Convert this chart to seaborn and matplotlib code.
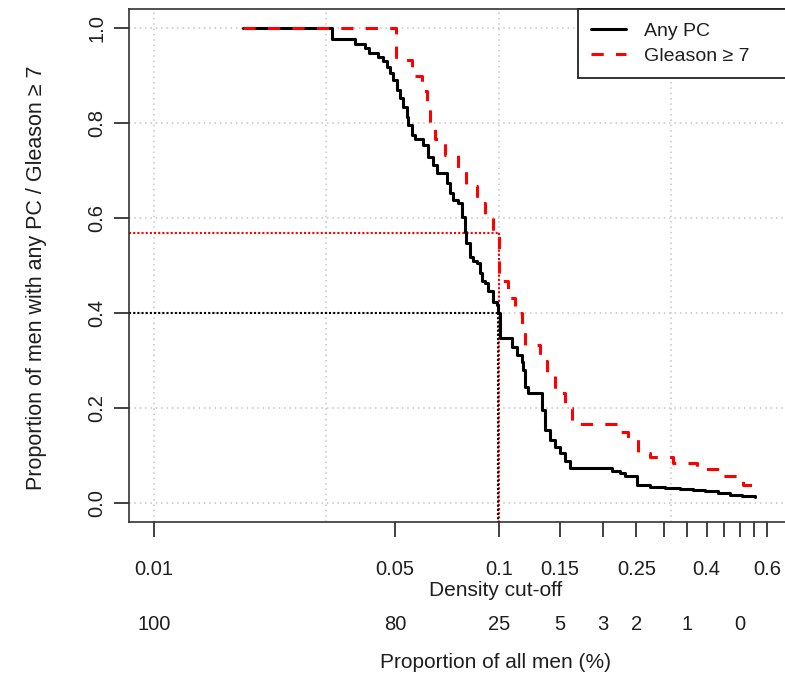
import pandas as pd
import matplotlib.pyplot as plt
import seaborn as sns

# --- data (step curves: x where the step happens, value after it) ---
any_x = [0.0181, 0.0327, 0.0383, 0.0409, 0.0420, 0.0447, 0.0461, 0.0473, 0.0483, 0.0493,
         0.0505, 0.0516, 0.0528, 0.0540, 0.0546, 0.0558, 0.0571, 0.0603, 0.0624, 0.0645,
         0.0660, 0.0705, 0.0721, 0.0737, 0.0762, 0.0780, 0.0797, 0.0805, 0.0824, 0.0842,
         0.0861, 0.0881, 0.0891, 0.0910, 0.0931, 0.0963, 0.0985, 0.0995, 0.1007, 0.1089,
         0.1125, 0.1164, 0.1176, 0.1190, 0.1216, 0.1330, 0.1360, 0.1405, 0.1453, 0.1503,
         0.1554, 0.1607, 0.2122, 0.2243, 0.2319, 0.2506, 0.2534, 0.2740, 0.3030, 0.3346,
         0.3650, 0.3955, 0.4314, 0.4673, 0.5063, 0.5521]
any_y = [1.000, 0.977, 0.968, 0.958, 0.947, 0.940, 0.932, 0.919, 0.905, 0.891,
         0.870, 0.853, 0.835, 0.814, 0.796, 0.775, 0.768, 0.754, 0.730, 0.712,
         0.695, 0.674, 0.653, 0.639, 0.632, 0.603, 0.572, 0.547, 0.519, 0.510,
         0.505, 0.484, 0.467, 0.463, 0.446, 0.424, 0.417, 0.400, 0.347, 0.330,
         0.312, 0.298, 0.281, 0.245, 0.232, 0.196, 0.154, 0.133, 0.119, 0.105,
         0.088, 0.074, 0.067, 0.063, 0.057, 0.039, 0.038, 0.035, 0.033, 0.031,
         0.028, 0.025, 0.022, 0.018, 0.015, 0.013]

gl_x = [0.0181, 0.0502, 0.0558, 0.0597, 0.0617, 0.0631, 0.0653, 0.0698, 0.0762, 0.0805,
        0.0861, 0.0910, 0.0963, 0.1001, 0.1062, 0.1113, 0.1166, 0.1190, 0.1315, 0.1375,
        0.1453, 0.1554, 0.1625, 0.2243, 0.2366, 0.2525, 0.2740, 0.3193, 0.3750, 0.4372,
        0.5097, 0.5521]
gl_y = [1.000, 0.933, 0.900, 0.867, 0.833, 0.800, 0.767, 0.733, 0.700, 0.667,
        0.633, 0.600, 0.569, 0.467, 0.433, 0.400, 0.367, 0.333, 0.300, 0.267,
        0.233, 0.200, 0.167, 0.150, 0.135, 0.105, 0.097, 0.085, 0.073, 0.057,
        0.038, 0.033]

cutoff = 0.1
any_at_cutoff = 0.40
gl_at_cutoff = 0.569

x_ticks = [0.01, 0.05, 0.1, 0.15, 0.25, 0.4, 0.6]
x_tick_labels = ['0.01', '0.05', '0.1', '0.15', '0.25', '0.4', '0.6']
x_minor_ticks = [0.2, 0.3, 0.35, 0.45, 0.5, 0.55]
men_pos = [0.01, 0.05, 0.1, 0.15, 0.2, 0.25, 0.35, 0.5]
men_labels = ['100', '80', '25', '5', '3', '2', '1', '0']
y_ticks = [0.0, 0.2, 0.4, 0.6, 0.8, 1.0]
x_grid = [0.01, 10 ** -1.5, 0.1, 10 ** -0.5]

df_any = pd.DataFrame({'cutoff': any_x, 'prop': any_y})
df_gl = pd.DataFrame({'cutoff': gl_x, 'prop': gl_y})

sns.set_theme(style='white')
plt.rcParams['font.family'] = ['Liberation Sans', 'DejaVu Sans']
txt = '#1e1e1e'

W, H = 785, 673
fig = plt.figure(figsize=(W / 100, H / 100), dpi=100)
# plot box in pixels: left 129, right ~796 (cropped), top 9, bottom 522
ax = fig.add_axes([129.3 / W, (H - 522.3) / H, (796 - 129.3) / W, (522.3 - 9.3) / H])

ax.set_xscale('log')
ax.set_xlim(10 ** -2.0716, 10 ** -0.139)
ax.set_ylim(-0.04, 1.04)

# dotted grid
for g in x_grid:
    ax.axvline(g, color='#c4c4c4', lw=1.1, ls=(0, (1, 2.5)), zorder=0)
for g in y_ticks:
    ax.axhline(g, color='#c4c4c4', lw=1.1, ls=(0, (1, 2.5)), zorder=0)

# reference lines at the cut-off
xl = ax.get_xlim()[0]
dot = (0, (1, 1))
ax.plot([xl, cutoff], [gl_at_cutoff, gl_at_cutoff], color='red', lw=1.5, ls=dot, zorder=1)
ax.plot([cutoff, cutoff], [gl_at_cutoff, -0.04], color='red', lw=1.5, ls=dot, zorder=1)
ax.plot([xl, cutoff], [any_at_cutoff, any_at_cutoff], color='black', lw=1.5, ls=dot, zorder=1)
ax.plot([cutoff * 0.996, cutoff * 0.996], [any_at_cutoff, -0.04], color='black', lw=1.5, ls=dot, zorder=1)

sns.lineplot(data=df_any, x='cutoff', y='prop', color='black', lw=2.2,
             drawstyle='steps-post', ax=ax, label='Any PC', zorder=3)
sns.lineplot(data=df_gl, x='cutoff', y='prop', color='red', lw=2.2,
             drawstyle='steps-post', linestyle=(0, (4, 4)), ax=ax,
             label='Gleason \u2265 7', zorder=4)

ax.set_xticks(x_ticks)
ax.set_xticklabels(x_tick_labels)
ax.set_xticks(x_minor_ticks, minor=True)
ax.xaxis.set_minor_formatter(plt.NullFormatter())
ax.set_yticks(y_ticks)
ax.set_yticklabels([f'{v:.1f}' for v in y_ticks], rotation=90, va='center')
ax.tick_params(axis='both', which='both', direction='out', length=10.5, width=1.3,
               color='#333333', labelsize=14.5, labelcolor=txt,
               bottom=True, left=True, top=False, right=False)
ax.tick_params(axis='x', which='both', pad=17)
ax.tick_params(axis='y', pad=6)
ax.set_xlabel('')
ax.set_ylabel('')
for s in ax.spines.values():
    s.set_color('#333333')
    s.set_linewidth(1.2)

# axis titles and the second row of labels
fig.text(496 / W, 1 - 590 / H, 'Density cut-off', ha='center', va='center', fontsize=15, color=txt)
for p, lab in zip(men_pos, men_labels):
    ax.text(p, -(625 - 522.3) / (522.3 - 9.3), lab, transform=ax.get_xaxis_transform(),
            ha='center', va='center', fontsize=14.5, color=txt)
fig.text(496 / W, 1 - 662 / H, 'Proportion of all men (%)', ha='center', va='center', fontsize=15, color=txt)
fig.text(37 / W, 1 - 278 / H, 'Proportion of men with any PC / Gleason \u2265 7', rotation=90,
         ha='center', va='center', fontsize=15.5, color=txt)

leg = ax.legend(loc='upper left', bbox_to_anchor=(578 / W, 0, 240 / W, 1 - 9.3 / H),
                bbox_transform=fig.transFigure, mode='expand', borderaxespad=0,
                fontsize=14, frameon=True, fancybox=False, framealpha=1,
                edgecolor='#222222', handlelength=1.8, handletextpad=0.95,
                labelspacing=0.4, borderpad=0.65)
leg.get_frame().set_linewidth(1.3)
for t in leg.get_texts():
    t.set_color(txt)

fig.savefig('out.png', dpi=100)
